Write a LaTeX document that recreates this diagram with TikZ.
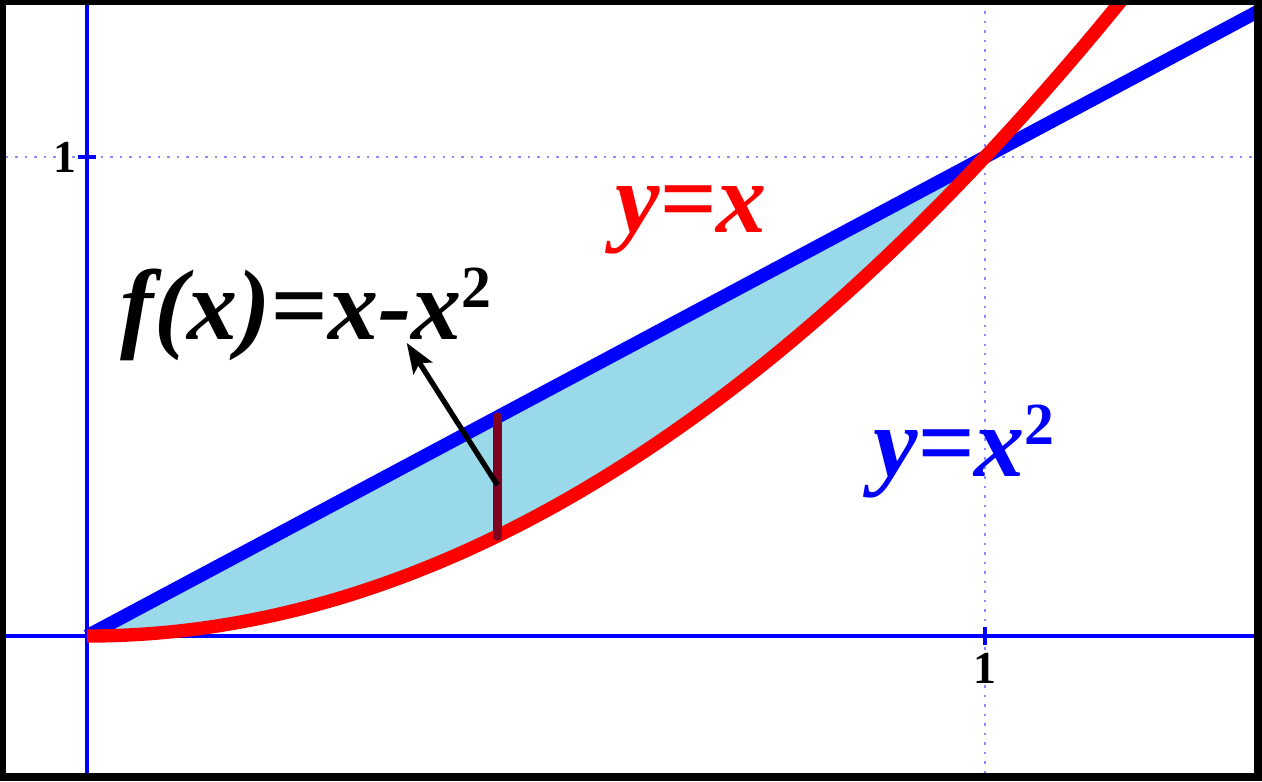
\documentclass[tikz,border=0pt]{standalone}
\usepackage{fontspec}
\setmainfont{Liberation Serif}
\usetikzlibrary{arrows.meta}

\definecolor{areablue}{HTML}{99D9EA}
\definecolor{slicered}{HTML}{800020}
\newcommand{\sqr}{\raisebox{0.32em}{\fontsize{17}{17}\selectfont\upshape\bfseries 2}}

\tikzset{
  curve/.style={line width=3.8pt},
  axisline/.style={blue, line width=0.9pt},
  gridline/.style={draw=blue!45, dotted, line width=0.7pt},
  eqn/.style={font=\fontsize{28.5}{30}\selectfont\bfseries\itshape, inner sep=0pt, anchor=base},
  unitlbl/.style={font=\fontsize{13}{14}\selectfont\bfseries, inner sep=0pt},
}

\begin{document}
\begin{tikzpicture}[x=8.98cm,y=4.79cm]
% frame
\fill[black] (-0.87cm,-1.45cm) rectangle (11.75cm,6.36cm);
\fill[white] (-0.81cm,-1.37cm) rectangle (11.67cm,6.31cm);
\useasboundingbox (-0.87cm,-1.45cm) rectangle (11.75cm,6.36cm);

\begin{scope}
\clip (-0.81cm,-1.37cm) rectangle (11.67cm,6.31cm);
\draw[gridline] (-0.81cm,1) -- (11.67cm,1);
\draw[gridline] (1,-1.37cm) -- (1,6.31cm);

% area between the curves
\fill[areablue] (0,0) -- (1,1) -- plot[domain=1:0,samples=60] (\x,{\x*\x}) -- cycle;

% axes and ticks
\draw[axisline] (-0.81cm,0) -- (11.67cm,0);
\draw[axisline] (0,-1.37cm) -- (0,6.31cm);
\draw[axisline] ([xshift=-0.09cm]0,1) -- ([xshift=0.09cm]0,1);
\draw[axisline] ([yshift=-0.09cm]1,0) -- ([yshift=0.09cm]1,0);

\draw[curve,blue] (0,0) -- (1.32,1.32);
\draw[curve,red] plot[domain=0:1.16,samples=100,smooth] (\x,{\x*\x});
\end{scope}

\node[unitlbl] (oney) at ([xshift=-0.22cm]0,1) {1};
\node[unitlbl] (onex) at ([yshift=-0.32cm]1,0) {1};

% the slice
\coordinate (top) at (0.457,0.457);
\coordinate (bot) at (0.457,0.2088);
\draw[slicered, line width=2.7pt, line cap=round] (bot) -- (top);

\node[eqn, red] (lineeq) at (0.6726,0.843) {y=x};
\node[eqn, blue] (parabeq) at (0.9766,0.332) {y=x\sqr};
\node[eqn] (diffeq) at (0.244,0.618) {f(x)=x-x\sqr};

\coordinate (tail) at (0.457,0.315);
\coordinate (tip) at (0.356,0.612);
\draw[line width=1.5pt, -{Stealth[length=0.3cm,width=0.22cm,inset=0.06cm]}] (tail) -- (tip);
\end{tikzpicture}
\end{document}
